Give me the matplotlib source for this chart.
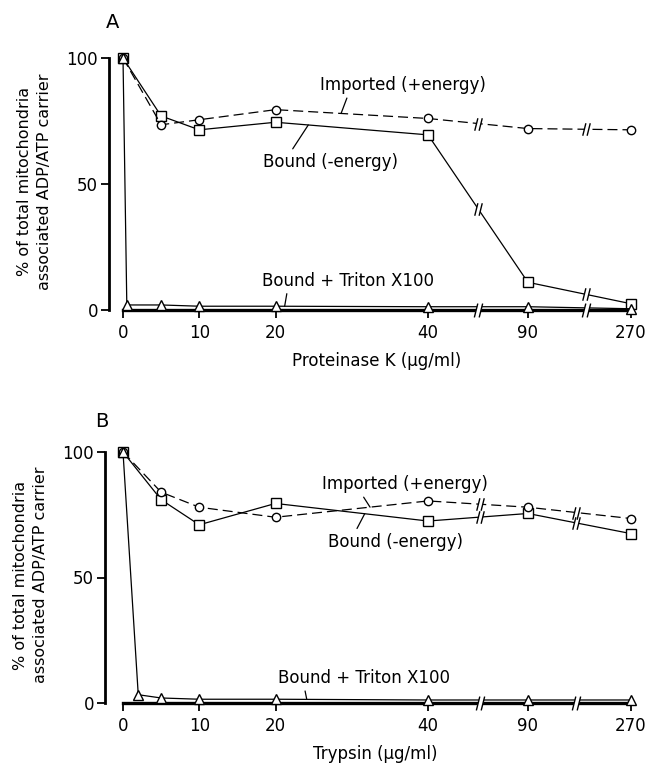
import numpy as np
import matplotlib.pyplot as plt
from matplotlib.path import Path

# concentrations (ug/ml) and values (% of total)
conc = [0, 5, 10, 20, 40, 90, 270]
conc_ticks = [0, 10, 20, 40, 90, 270]

a_imported = [100, 73.5, 75.5, 79.5, 76, 72, 71.5]
a_bound = [100, 77, 71.5, 74.5, 69.5, 11, 2.5]
a_triton_x = [0, 0.5, 5, 10, 20, 40, 90, 270]
a_triton = [100, 2, 2, 1.5, 1.5, 1.3, 1.3, 0.5]

b_imported = [100, 84, 78, 74, 80.5, 78, 73.5]
b_bound = [100, 81, 71, 79.5, 72.5, 75.5, 67.5]
b_triton_x = [0, 2, 5, 10, 20, 40, 90, 270]
b_triton = [100, 3.3, 2, 1.5, 1.5, 1.2, 1.2, 1.2]

# broken x axis: linear up to 40, then 90 and 270 squeezed in
scale_vals = [-50, 0, 40, 90, 270, 600]
scale_pos = [-50, 0, 40, 53.1, 66.6, 91.35]


def fwd(v):
    return np.interp(v, scale_vals, scale_pos)


def inv(p):
    return np.interp(p, scale_pos, scale_vals)


W, H = 651, 763
X0_PX, PX_PER_UNIT, RIGHT_PX = 123, 7.625, 645
Y_LO, Y_HI = -2, 104

SLASH = Path([(-0.6, -1), (-0.1, 1), (0.1, -1), (0.6, 1)],
             [Path.MOVETO, Path.LINETO, Path.MOVETO, Path.LINETO])
GAP = Path([(-0.6, -1), (0.1, -1), (0.6, 1), (-0.1, 1), (-0.6, -1)],
           [Path.MOVETO, Path.LINETO, Path.LINETO, Path.LINETO, Path.CLOSEPOLY])

fig = plt.figure(figsize=(W / 100, H / 100), dpi=100)


def make_panel(y100_px, y0_px, spine_px, xlabel, letter, letter_xy):
    ppu = (y0_px - y100_px) / 100
    top = y100_px - (Y_HI - 100) * ppu
    bottom = y0_px - Y_LO * ppu
    ax = fig.add_axes([spine_px / W, 1 - bottom / H,
                       (RIGHT_PX - spine_px) / W, (bottom - top) / H])
    ax.set_xscale('function', functions=(fwd, inv))
    ax.set_xlim(inv((spine_px - X0_PX) / PX_PER_UNIT),
                inv((RIGHT_PX - X0_PX) / PX_PER_UNIT))
    ax.set_ylim(Y_LO, Y_HI)
    ax.set_xticks(conc_ticks)
    ax.set_xticklabels([str(t) for t in conc_ticks])
    ax.xaxis.set_minor_locator(plt.NullLocator())
    ax.set_yticks([0, 50, 100])
    for s in ['top', 'right']:
        ax.spines[s].set_visible(False)
    ax.spines['left'].set_bounds(0, 100)
    ax.spines['left'].set_linewidth(2)
    ax.spines['bottom'].set_position(('data', 0))
    ax.spines['bottom'].set_bounds(0, 270)
    ax.spines['bottom'].set_linewidth(2.4)
    ax.tick_params(axis='y', direction='out', length=6, width=1.3, pad=2, labelsize=12)
    ax.tick_params(axis='x', direction='out', length=6, width=1.3, pad=4, labelsize=12)
    ax.set_ylabel('% of total mitochondria\nassociated ADP/ATP carrier',
                  fontsize=11.5, linespacing=1.45, labelpad=10)
    ax.set_xlabel(xlabel, fontsize=12, labelpad=7)
    fig.text(letter_xy[0] / W, 1 - letter_xy[1] / H, letter, fontsize=14,
             ha='center', va='center')
    return ax


def add_breaks(ax, xs, ys, breaks, size):
    p = fwd(np.asarray(xs, float))
    for b in breaks:
        yb = np.interp(fwd(b), p, ys)
        ax.plot(b, yb, marker=GAP, ms=size, mfc='white', mec='none', ls='none',
                zorder=5, clip_on=False)
        ax.plot(b, yb, marker=SLASH, ms=size, mfc='none', mec='black', mew=1.0,
                ls='none', zorder=6, clip_on=False)


def callout(ax, text, xs, ys, at, offset, relpos):
    y = np.interp(fwd(at), fwd(np.asarray(xs, float)), ys)
    ax.annotate(text, xy=(at, y), xytext=offset, textcoords='offset points',
                ha='left', va='center', fontsize=12,
                arrowprops=dict(arrowstyle='-', lw=0.9, color='black',
                                relpos=relpos, shrinkA=1, shrinkB=0))


def draw_series(ax, imported, bound, tx, triton, breaks):
    ax.plot(conc, bound, '-', color='black', lw=0.9, marker='s', ms=6.5,
            mfc='white', mec='black', mew=1.0, clip_on=False, zorder=3)
    ax.plot(conc, imported, color='black', lw=0.9, dashes=(8, 4), marker='o', ms=6,
            mfc='white', mec='black', mew=1.0, clip_on=False, zorder=3)
    ax.plot(tx, triton, '-', color='black', lw=0.9, marker='^', ms=7,
            mfc='white', mec='black', mew=1.0, clip_on=False, zorder=3)
    add_breaks(ax, conc, imported, breaks, 9)
    add_breaks(ax, conc, bound, breaks, 9)
    add_breaks(ax, [0, 270], [0, 0], breaks, 10)


ax_a = make_panel(58, 310, 109, 'Proteinase K (µg/ml)', 'A', (113, 23))
draw_series(ax_a, a_imported, a_bound, a_triton_x, a_triton, [65, 191])
callout(ax_a, 'Imported (+energy)', conc, a_imported, 28.6, (-15, 20.5), (0.17, 0))
callout(ax_a, 'Bound (-energy)', conc, a_bound, 24.3, (-32.5, -26.5), (0.2, 1))
callout(ax_a, 'Bound + Triton X100', a_triton_x, a_triton, 21.2, (-16.5, 18.5), (0.15, 0))

ax_b = make_panel(452, 703, 105, 'Trypsin (µg/ml)', 'B', (102, 421))
draw_series(ax_b, b_imported, b_bound, b_triton_x, b_triton, [66, 175])
callout(ax_b, 'Imported (+energy)', conc, b_imported, 32.4, (-34.5, 16.5), (0.235, 0))
callout(ax_b, 'Bound (-energy)', conc, b_bound, 31.7, (-26.5, -20), (0.2, 1))
callout(ax_b, 'Bound + Triton X100', b_triton_x, b_triton, 24.1, (-21, 15.5), (0.155, 0))

fig.savefig('out.png', dpi=100)
